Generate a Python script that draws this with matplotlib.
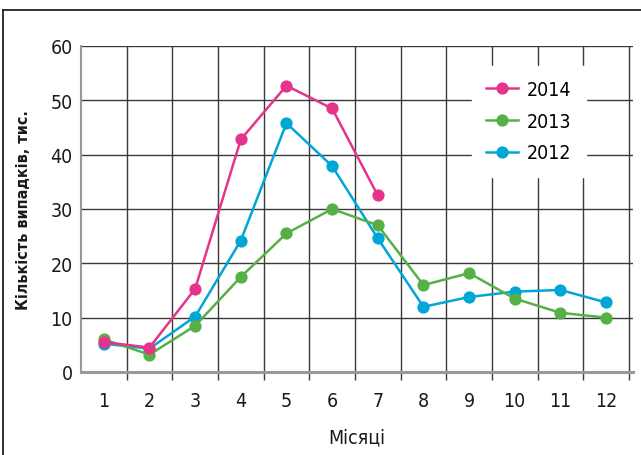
import numpy as np
import matplotlib.pyplot as plt
from matplotlib.lines import Line2D

# дані (тис. випадків по місяцях)
months = list(range(1, 13))
y2014 = [5.5, 4.5, 15.3, 42.8, 52.7, 48.5, 32.5]
y2013 = [6.0, 3.2, 8.5, 17.5, 25.5, 30.0, 27.0, 16.0, 18.2, 13.5, 10.9, 10.0]
y2012 = [5.2, 4.3, 10.2, 24.2, 45.8, 37.9, 24.6, 12.0, 13.8, 14.8, 15.1, 12.8]
yticks = [0, 10, 20, 30, 40, 50, 60]

c2014 = "#e5348a"
c2013 = "#56b046"
c2012 = "#00a6d6"
grid_c = "#3a3a3a"

plt.rcParams['font.family'] = ['DejaVu Sans']
plt.rcParams['font.stretch'] = 'condensed'

fig = plt.figure(figsize=(6.41, 4.56), dpi=100)
ax = fig.add_axes([81/641, 1-373/456, (633-81)/641, (373-47)/456])

# рамка навколо рисунка
fig.add_artist(Line2D([3/641, 3/641], [0, 1-11/456], transform=fig.transFigure, color="#222", lw=1.3))
fig.add_artist(Line2D([3/641, 1], [1-11/456, 1-11/456], transform=fig.transFigure, color="#222", lw=1.3))

ax.set_xlim(0.5, 12.59)
ax.set_ylim(0, 60)

# сітка
for y in yticks[1:]:
    ax.axhline(y, color=grid_c, lw=1.0, zorder=1)
for x in np.arange(1.5, 13, 1):
    ax.vlines(x, -1.4, 60, color=grid_c, lw=1.0, zorder=1, clip_on=False)

for s in ["top", "right"]:
    ax.spines[s].set_visible(False)
ax.spines["left"].set_color("#999")
ax.spines["left"].set_linewidth(1.5)
ax.spines["bottom"].set_color("#999")
ax.spines["bottom"].set_linewidth(2.2)

kw = dict(lw=1.8, marker="o", markersize=7.8, zorder=3)
ax.plot(months[:len(y2012)], y2012, color=c2012, label="2012", **kw)
ax.plot(months[:len(y2013)], y2013, color=c2013, label="2013", **kw)
ax.plot(months[:len(y2014)], y2014, color=c2014, label="2014", **kw)

ax.set_xticks(months)
ax.set_yticks(yticks)
ax.tick_params(length=0, labelsize=14, colors="#1a1a1a")
ax.tick_params(axis="x", pad=14)
ax.tick_params(axis="y", pad=6)

ax.set_xlabel("Місяці", fontsize=14, labelpad=12, color="#1a1a1a")
ax.set_ylabel("Кількість випадків, тис.", fontsize=11.5, fontweight="bold",
              labelpad=14, color="#1a1a1a")

handles, labels = ax.get_legend_handles_labels()
leg = ax.legend(handles[::-1], labels[::-1], loc="upper left",
                bbox_to_anchor=(0.708, 0.94), frameon=True, fancybox=False,
                edgecolor="white", facecolor="white", framealpha=1,
                fontsize=14, handlelength=1.6, handletextpad=0.5,
                labelspacing=0.65, borderpad=0.75, borderaxespad=0)
leg.set_zorder(2)

fig.savefig("out.png", dpi=100)
